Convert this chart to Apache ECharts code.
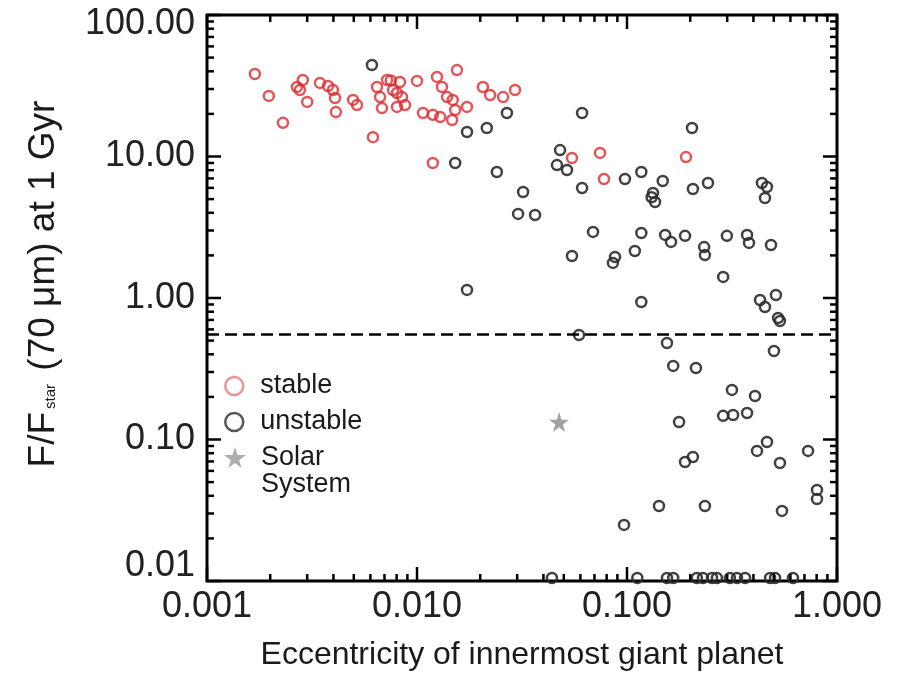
<!DOCTYPE html>
<html>
<head>
<meta charset="utf-8">
<script src="https://cdn.jsdelivr.net/npm/echarts@6/dist/echarts.min.js"></script>
<style>
  html, body { margin: 0; padding: 0; background: #fff; }
  #chart { width: 903px; height: 674px; }
</style>
</head>
<body>
<div id="chart"></div>
<script>
// Eccentricity of the innermost giant planet vs. 70 micron excess at 1 Gyr
const stableEcc = [0.00169, 0.00197, 0.0023, 0.00268, 0.00286, 0.00277, 0.0030, 0.00345, 0.00377, 0.00398,
  0.00407, 0.00411, 0.00496, 0.00518, 0.00617, 0.00645, 0.00667, 0.00681, 0.0072, 0.0075,
  0.00769, 0.00803, 0.00803, 0.0083, 0.00849, 0.00877, 0.0100, 0.0119, 0.01245, 0.01315,
  0.0139, 0.0148, 0.0152, 0.0147, 0.0155, 0.0173, 0.01068, 0.0119, 0.0129, 0.0206,
  0.0223, 0.0257, 0.0293, 0.0547, 0.0744, 0.0777, 0.191];
const stableFlux = [38.3, 26.8, 17.3, 31.0, 34.7, 29.5, 24.3, 33.1, 31.5, 29.5,
  25.9, 20.6, 25.1, 23.1, 13.7, 31.0, 26.3, 22.0, 34.7, 34.5,
  29.5, 22.4, 28.1, 33.6, 26.3, 23.1, 34.2, 9.0, 36.5, 31.0,
  26.3, 25.1, 21.3, 18.1, 40.8, 22.4, 20.3, 19.7, 19.0, 31.0,
  27.2, 26.3, 29.5, 9.76, 10.6, 6.93, 9.9];

const unstableEcc = [0.0061, 0.0173, 0.0215, 0.0268, 0.0152, 0.024, 0.032, 0.0611, 0.048, 0.0464,
  0.0518, 0.204, 0.0611, 0.0978, 0.117, 0.148, 0.133, 0.131, 0.136, 0.206,
  0.243, 0.439, 0.464, 0.454, 0.0303, 0.0365, 0.0689, 0.117, 0.0547, 0.0877,
  0.0857, 0.109, 0.152, 0.162, 0.189, 0.233, 0.235, 0.299, 0.373, 0.381,
  0.485, 0.287, 0.117, 0.43, 0.454, 0.512, 0.524, 0.535, 0.0591, 0.155,
  0.501, 0.166, 0.213, 0.316, 0.407, 0.287, 0.32, 0.373, 0.177, 0.416,
  0.464, 0.535, 0.728, 0.189, 0.206, 0.803, 0.803, 0.142, 0.235, 0.547,
  0.0968, 0.0173,
  0.0439, 0.112, 0.155, 0.166, 0.215, 0.23, 0.254, 0.268, 0.309, 0.334,
  0.365, 0.48, 0.507, 0.617];
const unstableFlux = [44.3, 14.9, 15.9, 20.3, 9.0, 7.77, 5.61, 20.3, 11.1, 8.7,
  8.03, 15.9, 5.99, 6.93, 7.77, 6.71, 5.52, 5.15, 4.77, 5.89,
  6.5, 6.5, 6.09, 5.09, 3.93, 3.86, 2.93, 2.88, 1.98, 1.95,
  1.77, 2.15, 2.79, 2.49, 2.75, 2.29, 2.01, 2.75, 2.79, 2.45,
  2.37, 1.41, 0.937, 0.968, 0.864, 1.05, 0.722, 0.688, 0.548, 0.481,
  0.422, 0.331, 0.32, 0.224, 0.203, 0.147, 0.149, 0.154, 0.133, 0.083,
  0.096, 0.0682, 0.083, 0.0693, 0.0752, 0.044, 0.038, 0.0339, 0.0339, 0.0313,
  0.0249, 1.14,
  0.0105, 0.0105, 0.0105, 0.0105, 0.0105, 0.0105, 0.0105, 0.0105, 0.0105, 0.0105,
  0.0105, 0.0105, 0.0105, 0.0105];

const solarEcc = [0.0475];
const solarFlux = [0.133];

// Detection limit drawn as a dashed horizontal line
const DETECTION_LIMIT = 0.55;

const X_MIN = 0.001, X_MAX = 1;
const Y_MIN = 0.01, Y_MAX = 100;

const RED = '#dc2a2e';
const DARK = '#2c2c2c';
const GREY = '#8a8a8a';
const STAR = 'path://M50,0 L61,35 L98,35 L68,57 L79,91 L50,70 L21,91 L32,57 L2,35 L39,35 Z';

const zip = (a, b) => a.map((v, i) => [v, b[i]]);

// Log-scale tick marks (1..9 per decade) on all four sides of the frame
function decadeTicks(lo, hi) {
  const out = [];
  for (let dec = lo; dec < hi * 0.999; dec *= 10) {
    for (let k = 1; k <= 9; k++) out.push([k * dec, k === 1 ? 1 : 0]);
  }
  out.push([hi, 1]);
  return out;
}
const tickData = [];
decadeTicks(X_MIN, X_MAX).forEach(([v, m]) => tickData.push([v, 1, 0, m]));
decadeTicks(Y_MIN, Y_MAX).forEach(([v, m]) => tickData.push([0.01, v, 1, m]));

function renderTick(params, api) {
  const kind = api.value(2);
  const len = api.value(3) ? 14 : 7;
  const style = { stroke: '#000', lineWidth: 2.5 };
  let segs;
  if (kind === 0) {
    const v = api.value(0);
    const b = api.coord([v, Y_MIN]);
    const t = api.coord([v, Y_MAX]);
    segs = [[b[0], b[1], b[0], b[1] - len], [t[0], t[1], t[0], t[1] + len]];
  } else {
    const v = api.value(1);
    const l = api.coord([X_MIN, v]);
    const r = api.coord([X_MAX, v]);
    segs = [[l[0], l[1], l[0] + len, l[1]], [r[0], r[1], r[0] - len, r[1]]];
  }
  return {
    type: 'group',
    children: segs.map(s => ({
      type: 'line',
      shape: { x1: s[0], y1: s[1], x2: s[2], y2: s[3] },
      style: style
    }))
  };
}

const chart = echarts.init(document.getElementById('chart'), null, { renderer: 'canvas' });

const FONT = 'Liberation Sans, Arial, sans-serif';
const yLabelFont = { fontFamily: FONT, fontSize: 36, color: '#222' };

const legendBase = {
  orient: 'vertical',
  left: 224,
  padding: 0,
  itemWidth: 18,
  itemHeight: 18,
  selectedMode: false,
  textStyle: { fontFamily: FONT, fontSize: 27, color: '#1a1a1a', padding: [0, 0, 0, 12], lineHeight: 30 }
};

chart.setOption({
  animation: false,
  backgroundColor: '#fff',
  grid: {
    left: 207, right: 66, top: 15, bottom: 93,
    outerBoundsMode: 'none',
    containLabel: false,
    show: true, borderColor: '#000', borderWidth: 3, backgroundColor: 'transparent'
  },
  xAxis: {
    type: 'log', logBase: 10, min: X_MIN, max: X_MAX,
    axisLine: { show: false }, axisTick: { show: false }, splitLine: { show: false },
    axisLabel: {
      fontFamily: FONT, fontSize: 36, color: '#222', margin: 8,
      formatter: v => Number(v).toFixed(3)
    },
    name: 'Eccentricity of innermost giant planet',
    nameLocation: 'middle', nameGap: 58,
    nameTextStyle: { fontFamily: FONT, fontSize: 32, color: '#1a1a1a' }
  },
  yAxis: {
    type: 'log', logBase: 10, min: Y_MIN, max: Y_MAX,
    axisLine: { show: false }, axisTick: { show: false }, splitLine: { show: false },
    axisLabel: {
      margin: 12,
      formatter: v => {
        const t = Number(v).toFixed(2);
        if (v >= Y_MAX * 0.999) return '{hi|' + t + '}';
        if (v <= Y_MIN * 1.001) return '{lo|' + t + '}';
        return '{n|' + t + '}';
      },
      rich: {
        n: yLabelFont,
        hi: Object.assign({}, yLabelFont, { padding: [18, 0, 0, 0] }),
        lo: Object.assign({}, yLabelFont, { padding: [0, 0, 30, 0] })
      }
    },
    name: '{m|F/F}{s|star}{m| (70 μm) at 1 Gyr}',
    nameLocation: 'middle', nameGap: 145,
    nameTextStyle: {
      color: '#1a1a1a',
      padding: [0, 0, 0, 28],
      rich: {
        m: { fontFamily: FONT, fontSize: 37, color: '#1a1a1a' },
        s: { fontFamily: FONT, fontSize: 15, color: '#1a1a1a', padding: [14, 3, 0, 3] }
      }
    }
  },
  legend: [
    Object.assign({}, legendBase, {
      top: 371,
      data: [{ name: 'stable', icon: 'circle', itemStyle: { color: 'transparent', borderColor: '#e07c80', borderWidth: 2.5 } }]
    }),
    Object.assign({}, legendBase, {
      top: 407,
      data: [{ name: 'unstable', icon: 'circle', itemStyle: { color: 'transparent', borderColor: '#444', borderWidth: 2.5 } }]
    }),
    Object.assign({}, legendBase, {
      top: 417,
      itemWidth: 22, itemHeight: 22,
      formatter: () => '\u00a0\nSolar\nSystem',
      textStyle: Object.assign({}, legendBase.textStyle, { lineHeight: 27, padding: [0, 0, 0, 10] }),
      data: [{ name: 'Solar System', icon: STAR, itemStyle: { color: '#999', borderWidth: 0 } }]
    })
  ],
  series: [
    {
      name: 'ticks',
      type: 'custom',
      renderItem: renderTick,
      data: tickData,
      encode: { x: 0, y: 1 },
      clip: false,
      silent: true,
      z: 5
    },
    {
      name: 'unstable',
      type: 'scatter',
      data: zip(unstableEcc, unstableFlux),
      symbol: 'circle',
      symbolSize: 10,
      itemStyle: { color: 'transparent', borderColor: DARK, borderWidth: 2.5, opacity: 0.9 },
      markLine: {
        silent: true,
        symbol: 'none',
        label: { show: false },
        lineStyle: { color: '#000', width: 2.5, type: [12, 6] },
        data: [{ yAxis: DETECTION_LIMIT }]
      },
      z: 3
    },
    {
      name: 'stable',
      type: 'scatter',
      data: zip(stableEcc, stableFlux),
      symbol: 'circle',
      symbolSize: 10,
      itemStyle: { color: 'transparent', borderColor: RED, borderWidth: 2.5 },
      z: 4
    },
    {
      name: 'Solar System',
      type: 'scatter',
      data: zip(solarEcc, solarFlux),
      symbol: STAR,
      symbolSize: 20,
      itemStyle: { color: GREY },
      z: 4
    }
  ]
});
</script>
</body>
</html>
